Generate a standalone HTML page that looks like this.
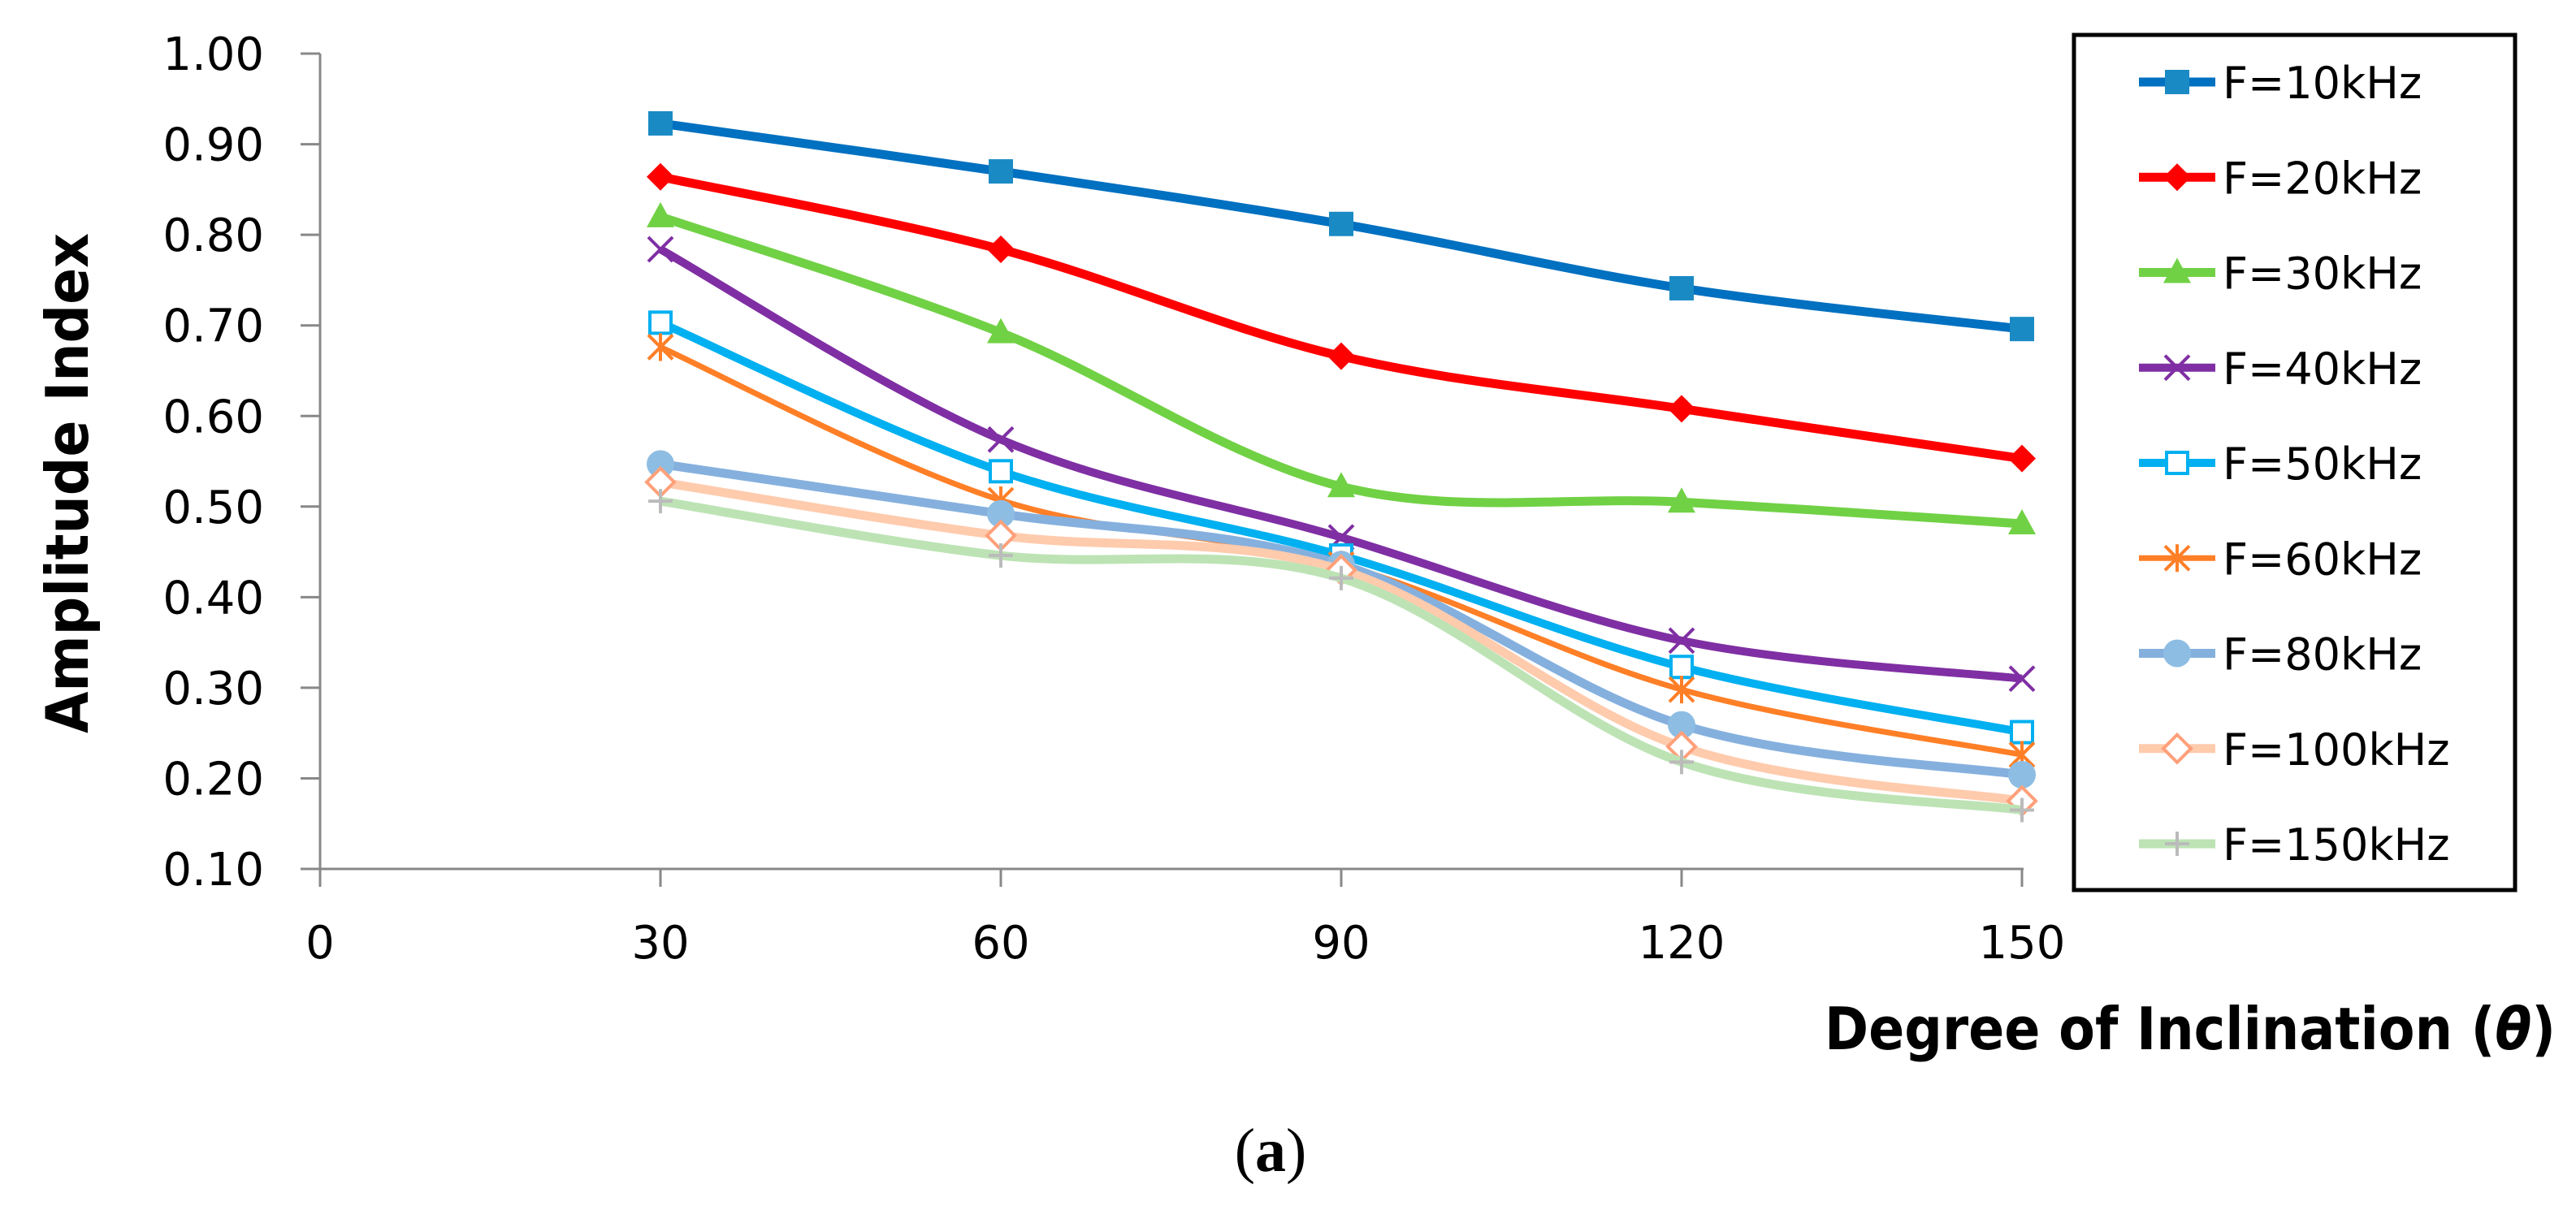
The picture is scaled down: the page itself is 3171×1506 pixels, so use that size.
<!DOCTYPE html>
<html><head><meta charset="utf-8"><style>
html,body{margin:0;padding:0;background:#fff;}
svg{display:block;}
</style></head><body>
<svg id="chart" width="3171" height="1506" viewBox="0 0 3171 1506" xmlns="http://www.w3.org/2000/svg">
<g id="axes"></g>
<g id="series"></g>
<g id="legend">
<rect x="2553" y="43" width="543" height="1053" fill="#fff" stroke="#000" stroke-width="5"/>
</g>
<text transform="translate(108,595) rotate(-90)" text-anchor="middle" font-family="'DejaVu Sans',sans-serif" font-weight="bold" font-size="72" textLength="616" lengthAdjust="spacingAndGlyphs">Amplitude Index</text>
<text x="2246" y="1292" font-family="'DejaVu Sans',sans-serif" font-weight="bold" font-size="72" textLength="900" lengthAdjust="spacingAndGlyphs">Degree of Inclination (<tspan font-style="italic">θ</tspan>)</text>
<text x="1564" y="1442" text-anchor="middle" font-family="'Liberation Serif',serif" font-size="76">(<tspan font-weight="bold">a</tspan>)</text>
</svg>
<script>
const xCats = [30, 60, 90, 120, 150];
const xTicks = [0, 30, 60, 90, 120, 150];
const yTicks = [0.10, 0.20, 0.30, 0.40, 0.50, 0.60, 0.70, 0.80, 0.90, 1.00];
const seriesNames = ["F=10kHz","F=20kHz","F=30kHz","F=40kHz","F=50kHz","F=60kHz","F=80kHz","F=100kHz","F=150kHz"];
const s10 = [0.923, 0.870, 0.812, 0.741, 0.696];
const s20 = [0.864, 0.784, 0.666, 0.608, 0.553];
const s30 = [0.820, 0.692, 0.522, 0.505, 0.481];
const s40 = [0.784, 0.574, 0.466, 0.352, 0.310];
const s50 = [0.703, 0.539, 0.446, 0.323, 0.251];
const s60 = [0.676, 0.507, 0.436, 0.298, 0.226];
const s80 = [0.547, 0.492, 0.436, 0.259, 0.204];
const s100 = [0.527, 0.468, 0.430, 0.235, 0.175];
const s150 = [0.506, 0.446, 0.421, 0.218, 0.165];
const seriesValues = [s10, s20, s30, s40, s50, s60, s80, s100, s150];

const NS = "http://www.w3.org/2000/svg";
const X0 = 394, XPER = 419/30, Y0 = 1070, YPER = 1115.5;
function xs(v){ return X0 + v*XPER; }
function ys(v){ return Y0 - (v-0.10)*YPER; }
function mk(tag, attrs, parent){ const e=document.createElementNS(NS,tag); for(const k in attrs) e.setAttribute(k,attrs[k]); parent.appendChild(e); return e; }

const styles = [
 {c:"#0070c0", w:11, m:"square", mc:"#1a8ac4"},
 {c:"#ff0000", w:11, m:"diamond", mc:"#ff0000"},
 {c:"#71d145", w:11, m:"triangle", mc:"#71d145"},
 {c:"#7f2fa3", w:10, m:"x", mc:"#7f2fa3"},
 {c:"#00b0f0", w:10, m:"opensquare", mc:"#00b0f0"},
 {c:"#ff7f27", w:7, m:"star", mc:"#ff7f27"},
 {c:"#85b0de", w:11, m:"circle", mc:"#8ebde3"},
 {c:"#ffcbad", w:11, m:"opendiamond", mc:"#ffa07a"},
 {c:"#bde3b5", w:11, m:"plus", mc:"#bbbbbb"}
];

const axes = document.getElementById("axes");
let e = mk("line",{x1:X0,y1:ys(1.0),x2:X0,y2:Y0,stroke:"#888","stroke-width":3},axes);


e = mk("line",{x1:X0,y1:Y0,x2:xs(150)+2,y2:Y0,stroke:"#888","stroke-width":3},axes);


yTicks.forEach(v=>{
  const y=ys(v);
  const t=mk("line",{x1:X0-24,y1:y,x2:X0,y2:y,stroke:"#888","stroke-width":3},axes);
  
  
  const l=mk("text",{x:325,y:y+20,"text-anchor":"end","font-family":"'DejaVu Sans',sans-serif","font-size":56},axes);
  
  
  l.textContent=v.toFixed(2);
});
xTicks.forEach(v=>{
  const x=xs(v);
  const t=mk("line",{x1:x,y1:Y0,x2:x,y2:Y0+22,stroke:"#888","stroke-width":3},axes);
  
  
  const l=mk("text",{x:x,y:1180,"text-anchor":"middle","font-family":"'DejaVu Sans',sans-serif","font-size":56},axes);
  
  
  l.textContent=String(v);
});

function smoothPath(pts){
  let d="M"+pts[0][0]+","+pts[0][1];
  const t=1/6;
  for(let i=0;i<pts.length-1;i++){
    const p0=pts[i-1]||pts[i], p1=pts[i], p2=pts[i+1], p3=pts[i+2]||p2;
    const c1=[p1[0]+(p2[0]-p0[0])*t, p1[1]+(p2[1]-p0[1])*t];
    const c2=[p2[0]-(p3[0]-p1[0])*t, p2[1]-(p3[1]-p1[1])*t];
    d+=" C"+c1[0]+","+c1[1]+" "+c2[0]+","+c2[1]+" "+p2[0]+","+p2[1];
  }
  return d;
}
function marker(g, type, x, y, col){
  const r=15; let m;
  if(type==="square") m=mk("rect",{x:x-r,y:y-r,width:2*r,height:2*r,fill:col},g);
  else if(type==="diamond") m=mk("polygon",{points:`${x},${y-r-2} ${x+r+2},${y} ${x},${y+r+2} ${x-r-2},${y}`,fill:col},g);
  else if(type==="triangle") m=mk("polygon",{points:`${x},${y-r-3} ${x+r+2},${y+r-2} ${x-r-2},${y+r-2}`,fill:col},g);
  else if(type==="x") m=mk("path",{d:`M${x-r},${y-r}L${x+r},${y+r}M${x+r},${y-r}L${x-r},${y+r}`,stroke:col,"stroke-width":4,fill:"none"},g);
  else if(type==="opensquare"){ m=mk("rect",{x:x-r+2,y:y-r+2,width:2*r-4,height:2*r-4,fill:"#fff",stroke:col,"stroke-width":4},g); }
  else if(type==="star") m=mk("path",{d:`M${x-r},${y-r}L${x+r},${y+r}M${x+r},${y-r}L${x-r},${y+r}M${x},${y-r-2}L${x},${y+r+2}`,stroke:col,"stroke-width":4,fill:"none"},g);
  else if(type==="circle") m=mk("circle",{cx:x,cy:y,r:r+2,fill:col},g);
  else if(type==="opendiamond") m=mk("polygon",{points:`${x},${y-r-2} ${x+r+2},${y} ${x},${y+r+2} ${x-r-2},${y}`,fill:"#fff",stroke:col,"stroke-width":4},g);
  else if(type==="plus") m=mk("path",{d:`M${x-r},${y}L${x+r},${y}M${x},${y-r}L${x},${y+r}`,stroke:col,"stroke-width":4,fill:"none"},g);
  return m;
}

const sg=document.getElementById("series");
const lg=document.getElementById("legend");
seriesValues.forEach((vals,i)=>{
  const st=styles[i];
  const g=mk("g",{},sg);
  
  
  const pts=vals.map((v,j)=>[xs(xCats[j]),ys(v)]);
  const p=mk("path",{d:smoothPath(pts),fill:"none",stroke:st.c,"stroke-width":st.w,"stroke-linejoin":"round"},g);
  
  
  pts.forEach(pt=>{
    const m=marker(g,st.m,pt[0],pt[1],st.mc);
    
    
  });
  // legend entry
  const ly=101+i*117.25;
  const le=mk("g",{},lg);
  
  
  mk("line",{x1:2633,y1:ly,x2:2727,y2:ly,stroke:st.c,"stroke-width":st.w},le);
  marker(le,st.m,2680,ly,st.mc);
  const t=mk("text",{x:2736,y:ly+20,"font-family":"'DejaVu Sans',sans-serif","font-size":54},le);
  
  
  t.textContent=seriesNames[i];
});
</script>
</body></html>
